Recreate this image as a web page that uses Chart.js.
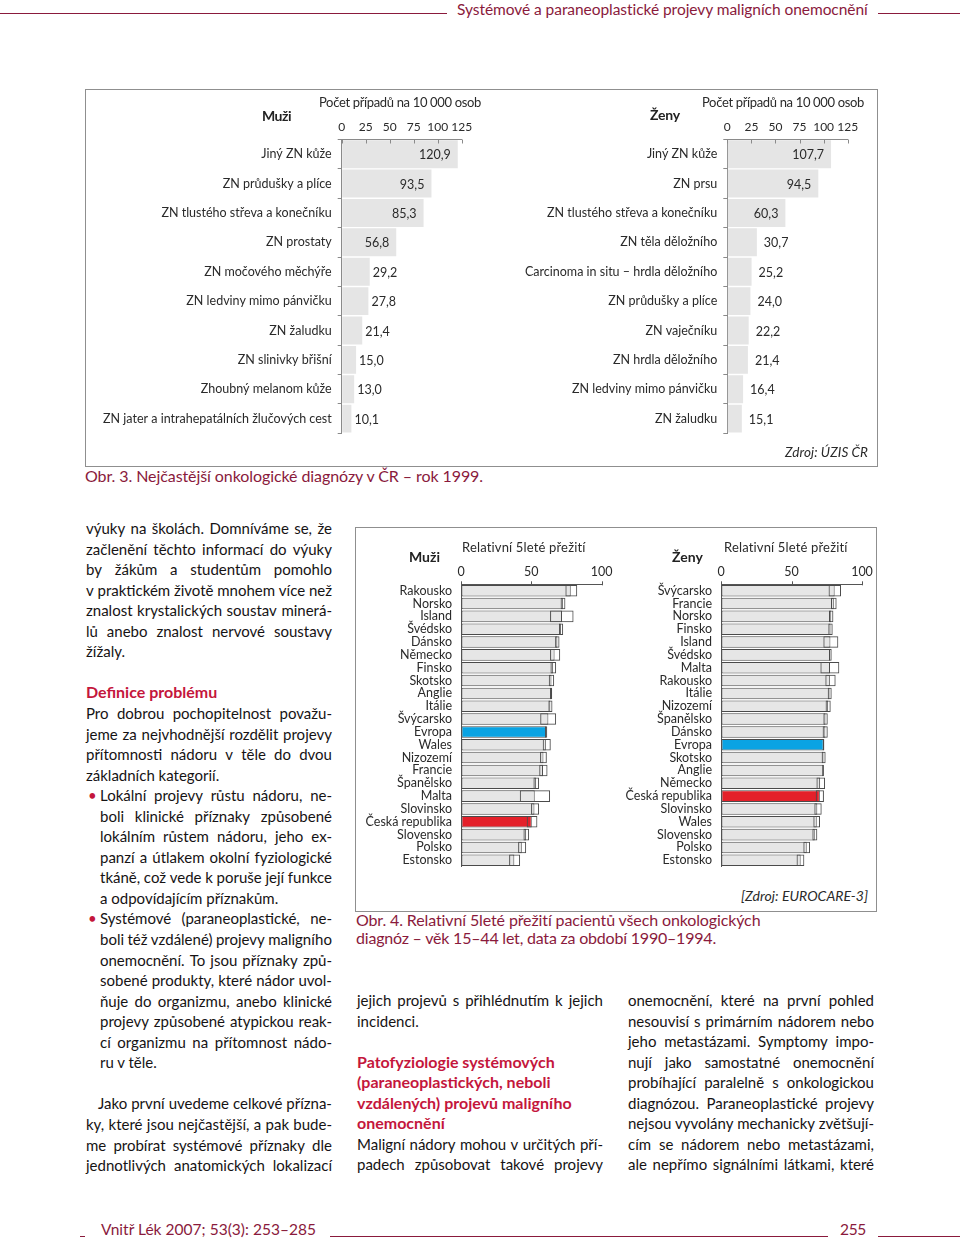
<!DOCTYPE html>
<html><head><meta charset="utf-8">
<script src="https://cdn.jsdelivr.net/npm/chart.js@4.4.1/dist/chart.umd.min.js"></script>
<style>
html,body{margin:0;padding:0;background:#fff;}
body{width:960px;height:1241px;position:relative;overflow:hidden;font-family:Lato,'DejaVu Sans',sans-serif;color:#161314;}
.abs{position:absolute;white-space:nowrap;}
.rule{position:absolute;height:0;border-top:1.5px solid #8a1a3c;}
.box{position:absolute;border:1.5px solid #8f8f8f;box-sizing:border-box;}
canvas{position:absolute;}
.jl{position:absolute;display:flex;justify-content:space-between;white-space:nowrap;font-size:15px;line-height:20px;}
.ll{position:absolute;white-space:nowrap;font-size:15px;line-height:20px;}
</style>
</head><body>
<div class="rule" style="left:0;top:13px;width:447px"></div>
<div class="rule" style="left:878px;top:13px;width:82px"></div>
<div class="rule" style="left:80px;top:1236px;width:5px"></div>
<div class="rule" style="left:330px;top:1236px;width:498px"></div>
<div class="rule" style="left:878px;top:1236px;width:82px"></div>
<div class="box" style="left:85px;top:89px;width:793px;height:378px"></div>
<div class="box" style="left:355px;top:527px;width:522px;height:385px"></div>
<script>
// ---------- DATA ----------
const incTicks = [0, 25, 50, 75, 100, 125];
const menIncCats = ['Jiný ZN kůže','ZN průdušky a plíce','ZN tlustého střeva a konečníku','ZN prostaty','ZN močového měchýře','ZN ledviny mimo pánvičku','ZN žaludku','ZN slinivky břišní','Zhoubný melanom kůže','ZN jater a intrahepatálních žlučových cest'];
const menIncVals = [120.9, 93.5, 85.3, 56.8, 29.2, 27.8, 21.4, 15.0, 13.0, 10.1];
const womenIncCats = ['Jiný ZN kůže','ZN prsu','ZN tlustého střeva a konečníku','ZN těla děložního','Carcinoma in situ – hrdla děložního','ZN průdušky a plíce','ZN vaječníku','ZN hrdla děložního','ZN ledviny mimo pánvičku','ZN žaludku'];
const womenIncVals = [107.7, 94.5, 60.3, 30.7, 25.2, 24.0, 22.2, 21.4, 16.4, 15.1];

const survTicks = [0, 50, 100];
const menSurvCountries = ['Rakousko','Norsko','Island','Švédsko','Dánsko','Německo','Finsko','Skotsko','Anglie','Itálie','Švýcarsko','Evropa','Wales','Nizozemí','Francie','Španělsko','Malta','Slovinsko','Česká republika','Slovensko','Polsko','Estonsko'];
const menSurvEst  = [78.0, 72.4, 71.8, 71.0, 68.5, 66.5, 65.5, 64.3, 64.0, 63.5, 62.1, 60.5, 60.3, 58.6, 58.3, 53.4, 52.4, 52.2, 50.3, 46.3, 43.2, 37.9];
const menSurvLow  = [74.2, 70.8, 63.3, 69.6, 66.9, 63.3, 63.6, 62.4, 63.4, 62.1, 56.3, 59.8, 58.1, 56.2, 55.6, 51.5, 41.8, 49.8, 46.7, 44.4, 40.6, 34.2];
const menSurvHigh = [82.6, 74.2, 80.0, 72.6, 70.0, 70.5, 67.6, 66.2, 64.8, 65.0, 67.6, 61.3, 63.8, 61.0, 61.5, 55.5, 63.3, 55.5, 54.3, 48.4, 46.3, 42.0];
const womenSurvCountries = ['Švýcarsko','Francie','Norsko','Finsko','Island','Švédsko','Malta','Rakousko','Itálie','Nizozemí','Španělsko','Dánsko','Evropa','Skotsko','Anglie','Německo','Česká republika','Slovinsko','Wales','Slovensko','Polsko','Estonsko'];
const womenSurvEst  = [80.6, 80.0, 78.2, 77.7, 77.6, 77.5, 77.3, 77.2, 77.0, 76.0, 74.1, 74.0, 72.8, 72.7, 72.5, 70.3, 70.1, 68.3, 67.9, 66.5, 60.8, 56.5];
const womenSurvLow  = [76.3, 78.0, 76.6, 76.1, 72.6, 76.6, 70.5, 74.0, 75.7, 74.2, 72.6, 72.1, 72.3, 71.4, 71.9, 67.7, 67.2, 66.2, 65.5, 64.8, 58.4, 53.6];
const womenSurvHigh = [85.1, 82.0, 79.7, 79.2, 83.2, 78.5, 83.9, 81.3, 78.5, 77.8, 75.7, 75.7, 73.3, 74.2, 73.0, 73.8, 73.0, 71.4, 70.2, 68.3, 63.1, 59.1];

// ---------- STYLE ----------
const MAROON = '#8a1a3c', RED_HEAD = '#c4163c';
const GRAY = '#e6e6e6', BLUE = '#0aa3e3', RED = '#e4202a';

Chart.defaults.font.family = "Lato, 'DejaVu Sans', sans-serif";
Chart.defaults.color = '#333';
Chart.defaults.animation = false;
Chart.defaults.responsive = false;
Chart.defaults.devicePixelRatio = 1;
Chart.defaults.plugins.legend.display = false;
Chart.defaults.plugins.tooltip.enabled = false;

function mkCanvas(b){
  const c = document.createElement('canvas');
  c.width = b.w; c.height = b.h;
  c.style.left = b.x + 'px'; c.style.top = b.y + 'px';
  c.style.width = b.w + 'px'; c.style.height = b.h + 'px';
  document.body.appendChild(c);
  return c;
}

const axisTicks = {
  id: 'axisTicks',
  afterDraw(chart, args, o){
    const xs = chart.scales.x, ctx = chart.ctx, top = chart.chartArea.top;
    ctx.save(); ctx.strokeStyle = o.color; ctx.lineWidth = 1;
    xs.ticks.forEach(t => {
      const px = Math.round(xs.getPixelForValue(t.value)) + 0.5;
      ctx.beginPath(); ctx.moveTo(px, top + o.from); ctx.lineTo(px, top + o.to); ctx.stroke();
    });
    ctx.restore();
  }
};

const valueLabels = {
  id: 'valueLabels',
  afterDatasetsDraw(chart, args, o){
    const meta = chart.getDatasetMeta(0), ds = chart.data.datasets[0], ctx = chart.ctx;
    ctx.save(); ctx.font = "12.5px Lato, 'DejaVu Sans', sans-serif"; ctx.fillStyle = '#2a2a2a'; ctx.textBaseline = 'middle';
    meta.data.forEach((bar, i) => {
      const v = ds.data[i], s = v.toFixed(1).replace('.', ',');
      if (v > o.threshold) { ctx.textAlign = 'right'; ctx.fillText(s, bar.x - o.inside, bar.y + 1); }
      else { ctx.textAlign = 'left'; ctx.fillText(s, bar.x + o.outside, bar.y + 1); }
    });
    ctx.restore();
  }
};

function incidenceChart(box, area, cats, vals, outside){
  const c = mkCanvas(box);
  new Chart(c, {
    type: 'bar',
    data: { labels: cats, datasets: [{ data: vals, backgroundColor: '#e5e5e5', borderWidth: 0, barPercentage: 0.95, categoryPercentage: 1 }] },
    options: {
      indexAxis: 'y',
      layout: { padding: { left: 0, top: 0, right: box.x + box.w - area.r, bottom: box.y + box.h - area.b } },
      scales: {
        x: { type: 'linear', position: 'top', min: incTicks[0], max: incTicks[incTicks.length-1],
             afterBuildTicks(s){ s.ticks = incTicks.map(v => ({ value: v })); },
             ticks: { padding: 5, font: { size: 12 }, color: '#2a2a2a', autoSkip: false, maxRotation: 0, minRotation: 0 },
             grid: { drawOnChartArea: false, drawTicks: false, color: '#8a8a8a' },
             border: { display: true, color: '#8a8a8a', width: 1 },
             afterFit(s){ s.height = area.t - box.y; s.paddingLeft = 0; s.paddingRight = 0; } },
        y: { ticks: { padding: 6, font: { size: 12.5 }, color: '#2a2a2a', autoSkip: false },
             grid: { offset: true, drawOnChartArea: false, tickLength: 4, color: '#8a8a8a' },
             border: { display: true, color: '#8a8a8a', width: 1 },
             afterFit(s){ s.width = area.l - box.x; s.paddingTop = 0; s.paddingBottom = 0; } }
      },
      plugins: { valueLabels: { threshold: 50, inside: 7, outside: outside }, axisTicks: { color: '#8a8a8a', from: 0, to: 4 } }
    },
    plugins: [valueLabels, axisTicks]
  });
}

function survivalChart(box, area, countries, est, low, high){
  const c = mkCanvas(box);
  const colors = countries.map(n => n === 'Evropa' ? BLUE : (n === 'Česká republika' ? RED : GRAY));
  new Chart(c, {
    type: 'bar',
    data: { labels: countries, datasets: [
      { data: low.map((l, i) => [l, high[i]]), backgroundColor: 'rgba(255,255,255,0)', borderColor: '#4a4a4a', borderWidth: 1, borderSkipped: false, grouped: false, order: 0, barPercentage: 0.9, categoryPercentage: 1 },
      { data: est, backgroundColor: colors, borderColor: '#4a4a4a', borderWidth: 1, borderSkipped: false, grouped: false, order: 1, barPercentage: 0.9, categoryPercentage: 1 }
    ] },
    options: {
      indexAxis: 'y',
      layout: { padding: { left: 0, top: 0, right: box.x + box.w - area.r, bottom: box.y + box.h - area.b } },
      scales: {
        x: { type: 'linear', position: 'top', min: survTicks[0], max: survTicks[survTicks.length-1],
             afterBuildTicks(s){ s.ticks = survTicks.map(v => ({ value: v })); },
             ticks: { padding: 5, font: { size: 12.5 }, color: '#2a2a2a', autoSkip: false, maxRotation: 0, minRotation: 0 },
             grid: { drawOnChartArea: false, drawTicks: false, color: '#555' },
             border: { display: true, color: '#555', width: 1 },
             afterFit(s){ s.height = area.t - box.y; s.paddingLeft = 0; s.paddingRight = 0; } },
        y: { ticks: { padding: 9, font: { size: 12.5 }, color: '#2a2a2a', autoSkip: false },
             grid: { offset: true, drawOnChartArea: false, drawTicks: false, color: '#555' },
             border: { display: true, color: '#555', width: 1 },
             afterFit(s){ s.width = area.l - box.x; s.paddingTop = 0; s.paddingBottom = 0; } }
      },
      plugins: { axisTicks: { color: '#555', from: -3, to: 1 } }
    },
    plugins: [axisTicks]
  });
}

incidenceChart({x:95, y:112, w:395, h:335}, {l:341.7, t:139.5, r:461.7, b:433.3}, menIncCats, menIncVals, 3);
incidenceChart({x:495, y:112, w:375, h:335}, {l:727.3, t:139.5, r:847.7, b:433.3}, womenIncCats, womenIncVals, 7);
survivalChart({x:358, y:560, w:258, h:315}, {l:461, t:584.3, r:601.7, b:866.7}, menSurvCountries, menSurvEst, menSurvLow, menSurvHigh);
survivalChart({x:618, y:560, w:257, h:315}, {l:721, t:584.3, r:862, b:866.7}, womenSurvCountries, womenSurvEst, womenSurvLow, womenSurvHigh);

// ---------- TEXT ----------
function txt(x0, x1, cy, s, o){
  o = o || {};
  const d = document.createElement('div'); d.className = 'abs'; d.textContent = s;
  const size = o.size || 15, lh = o.lh || 20;
  d.style.left = x0 + 'px'; d.style.top = (cy - lh/2) + 'px';
  d.style.fontSize = size + 'px'; d.style.lineHeight = lh + 'px';
  d.style.fontWeight = o.bold ? '700' : '400';
  d.style.fontStyle = o.italic ? 'italic' : 'normal';
  d.style.color = o.color || '#161314';
  document.body.appendChild(d);
  if (x1) {
    const w = d.getBoundingClientRect().width, n = s.length;
    d.style.letterSpacing = ((x1 - x0 - w) / n) + 'px';
  }
  return d;
}
function jline(x, cy, W, s, o){
  o = o || {};
  const d = document.createElement('div'); d.className = 'jl';
  d.style.left = x + 'px'; d.style.top = (cy - 10) + 'px'; d.style.width = W + 'px';
  if (o.bold) d.style.fontWeight = '700';
  if (o.color) d.style.color = o.color;
  const words = s.split(' ');
  words.forEach(wd => { const sp = document.createElement('span'); sp.textContent = wd; d.appendChild(sp); });
  document.body.appendChild(d);
  let tot = 0; d.querySelectorAll('span').forEach(sp => tot += sp.getBoundingClientRect().width);
  const nat = tot + (words.length - 1) * 3.4;
  if (nat > W) d.style.letterSpacing = ((W - nat) / s.replace(/ /g,'').length) + 'px';
}
function lline(x, cy, s, o){
  o = o || {};
  const d = document.createElement('div'); d.className = 'll'; d.textContent = s;
  d.style.left = x + 'px'; d.style.top = (cy - 10) + 'px';
  if (o.bold) { d.style.fontWeight = '700'; d.style.fontSize = '16px'; }
  if (o.color) d.style.color = o.color;
  document.body.appendChild(d);
}

// header / footer
txt(457, 868, 9, 'Systémové a paraneoplastické projevy maligních onemocnění', {size:15.5, color:MAROON});
txt(101, 316, 1229, 'Vnitř Lék 2007; 53(3): 253–285', {size:15.5, color:MAROON});
txt(840, 866, 1229, '255', {size:15.5, color:MAROON});

// Obr. 3 titles
txt(262, 291, 116, 'Muži', {size:14, bold:true, color:'#222'});
txt(319, 481, 102, 'Počet případů na 10 000 osob', {size:13, color:'#2a2a2a'});
txt(650, 680, 115, 'Ženy', {size:14, bold:true, color:'#222'});
txt(702, 864, 102, 'Počet případů na 10 000 osob', {size:13, color:'#2a2a2a'});
txt(785, 868, 452, 'Zdroj: ÚZIS ČR', {size:13.5, italic:true, color:'#2a2a2a'});
txt(85, 483, 476, 'Obr. 3. Nejčastější onkologické diagnózy v ČR – rok 1999.', {size:16, color:MAROON});

// Obr. 4 titles
txt(409, 440, 557, 'Muži', {size:14, bold:true, color:'#222'});
txt(462, 586, 547, 'Relativní 5leté přežití', {size:13, color:'#2a2a2a'});
txt(672, 703, 557, 'Ženy', {size:14, bold:true, color:'#222'});
txt(724, 848, 547, 'Relativní 5leté přežití', {size:13, color:'#2a2a2a'});
txt(741, 868, 896, '[Zdroj: EUROCARE-3]', {size:14, italic:true, color:'#2a2a2a'});
txt(356, 761, 920, 'Obr. 4. Relativní 5leté přežití pacientů všech onkologických', {size:16, color:MAROON});
txt(356, 716, 938, 'diagnóz – věk 15–44 let, data za období 1990–1994.', {size:16, color:MAROON});

// body text: [index, text, type]  j=justified, l=last line, h=heading, b=bullet start
const leftCol = [
  [0,'výuky na školách. Domníváme se, že','j'],
  [1,'začlenění těchto informací do výuky','j'],
  [2,'by žákům a studentům pomohlo','j'],
  [3,'v praktickém životě mnohem více než','j'],
  [4,'znalost krystalických soustav minerá-','j'],
  [5,'lů anebo znalost nervové soustavy','j'],
  [6,'žížaly.','l'],
  [8,'Definice problému','h'],
  [9,'Pro dobrou pochopitelnost považu-','j'],
  [10,'jeme za nejvhodnější rozdělit projevy','j'],
  [11,'přítomnosti nádoru v těle do dvou','j'],
  [12,'základních kategorií.','l'],
  [13,'Lokální projevy růstu nádoru, ne-','bj'],
  [14,'boli klinické příznaky způsobené','ij'],
  [15,'lokálním růstem nádoru, jeho ex-','ij'],
  [16,'panzí a útlakem okolní fyziologické','ij'],
  [17,'tkáně, což vede k poruše její funkce','ij'],
  [18,'a odpovídajícím příznakům.','il'],
  [19,'Systémové (paraneoplastické, ne-','bj'],
  [20,'boli též vzdálené) projevy maligního','ij'],
  [21,'onemocnění. To jsou příznaky způ-','ij'],
  [22,'sobené produkty, které nádor uvol-','ij'],
  [23,'ňuje do organizmu, anebo klinické','ij'],
  [24,'projevy způsobené atypickou reak-','ij'],
  [25,'cí organizmu na přítomnost nádo-','ij'],
  [26,'ru v těle.','il'],
  [28,'Jako první uvedeme celkové přízna-','pj'],
  [29,'ky, které jsou nejčastější, a pak bude-','j'],
  [30,'me probírat systémové příznaky dle','j'],
  [31,'jednotlivých anatomických lokalizací','j']
];
const midCol = [
  [0,'jejich projevů s přihlédnutím k jejich','j'],
  [1,'incidenci.','l'],
  [3,'Patofyziologie systémových','h'],
  [4,'(paraneoplastických, neboli','h'],
  [5,'vzdálených) projevů maligního','h'],
  [6,'onemocnění','h'],
  [7,'Maligní nádory mohou v určitých pří-','j'],
  [8,'padech způsobovat takové projevy','j']
];
const rightCol = [
  [0,'onemocnění, které na první pohled','j'],
  [1,'nesouvisí s primárním nádorem nebo','j'],
  [2,'jeho metastázami. Symptomy impo-','j'],
  [3,'nují jako samostatné onemocnění','j'],
  [4,'probíhající paralelně s onkologickou','j'],
  [5,'diagnózou. Paraneoplastické projevy','j'],
  [6,'nejsou vyvolány mechanicky zvětšují-','j'],
  [7,'cím se nádorem nebo metastázami,','j'],
  [8,'ale nepřímo signálními látkami, které','j']
];
function renderCol(col, x, y0, W){
  col.forEach(([i, s, t]) => {
    const cy = y0 + i * 20.55;
    if (t === 'h') { lline(x, cy, s, {bold:true, color:RED_HEAD}); return; }
    let xx = x, ww = W;
    if (t[0] === 'b' || t[0] === 'i') { xx = x + 14; ww = W - 14; }
    if (t[0] === 'p') { xx = x + 12; ww = W - 12; }
    if (t[0] === 'b') { const b = document.createElement('div'); b.className='ll'; b.textContent='•'; b.style.left=(x+2)+'px'; b.style.top=(cy-10)+'px'; b.style.color=RED_HEAD; document.body.appendChild(b); }
    const kind = t[t.length-1];
    if (kind === 'j') jline(xx, cy, ww, s); else lline(xx, cy, s);
  });
}
renderCol(leftCol, 86, 528, 246);
renderCol(midCol, 357, 1000, 246);
renderCol(rightCol, 628, 1000, 246);
</script>
</body></html>
